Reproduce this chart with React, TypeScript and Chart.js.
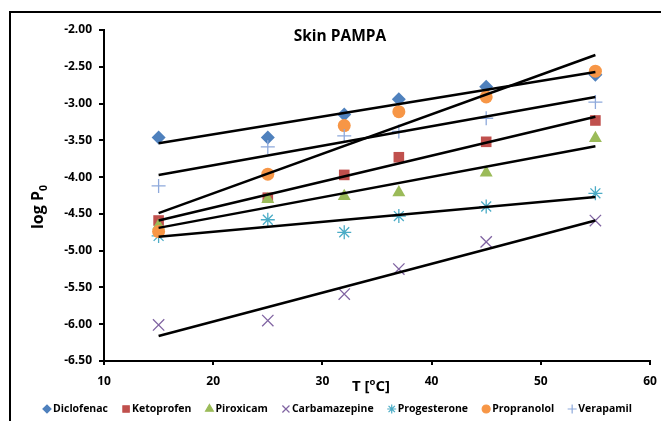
import React, { useEffect, useRef } from "react";
import { Chart, registerables } from "chart.js";
import { drawPoint } from "chart.js/helpers";

Chart.register(...registerables);

const temps = [15, 25, 32, 37, 45, 55];
const diclofenac = [-3.46, -3.46, -3.15, -2.94, -2.77, -2.61];
const ketoprofen = [-4.59, -4.28, -3.97, -3.73, -3.52, -3.23];
const piroxicam = [-4.66, -4.3, -4.26, -4.21, -3.94, -3.47];
const carbamazepine = [-6.01, -5.95, -5.59, -5.25, -4.88, -4.59];
const progesterone = [-4.8, -4.58, -4.75, -4.53, -4.4, -4.22];
const propranolol = [-4.74, -3.96, -3.3, -3.11, -2.91, -2.56];
const verapamil = [-4.12, -3.59, -3.44, -3.38, -3.2, -2.98];

// trend line end values at T = 15 and T = 55
const trendX = [15, 55];
const trendDiclofenac = [-3.54, -2.57];
const trendKetoprofen = [-4.59, -3.18];
const trendPiroxicam = [-4.69, -3.58];
const trendCarbamazepine = [-6.16, -4.59];
const trendProgesterone = [-4.81, -4.27];
const trendPropranolol = [-4.49, -2.34];
const trendVerapamil = [-3.97, -2.91];

const seriesNames = ["Diclofenac", "Ketoprofen", "Piroxicam", "Carbamazepine", "Progesterone", "Propranolol", "Verapamil"];
const seriesValues = [diclofenac, ketoprofen, piroxicam, carbamazepine, progesterone, propranolol, verapamil];
const trendValues = [trendDiclofenac, trendKetoprofen, trendPiroxicam, trendCarbamazepine, trendProgesterone, trendPropranolol, trendVerapamil];
const colors = ["#4F81BD", "#C0504D", "#9BBB59", "#8064A2", "#4BACC6", "#F79646", "#8EA9DB"];
const styles = ["rectRot", "rect", "triangle", "crossRot", "star", "circle", "cross"];
const radii = [7, 7.5, 7.5, 8, 7, 6.5, 7];
const legendRadii = [4, 4.5, 4.5, 5, 4.5, 4, 4.5];

const FONT = "'Open Sans', Lato, sans-serif";

const decorPlugin = {
  id: "decor",
  beforeDraw(chart: any) {
    const ctx = chart.ctx;
    ctx.save();
    ctx.fillStyle = "#fff";
    ctx.fillRect(0, 0, chart.width, chart.height);
    ctx.strokeStyle = "#000";
    ctx.lineWidth = 2;
    ctx.strokeRect(10, 12, 720, 520);
    ctx.restore();
  },
  afterDraw(chart: any) {
    const ctx = chart.ctx;
    ctx.save();
    ctx.fillStyle = "#000";
    // title
    ctx.font = `bold 15.5px ${FONT}`;
    ctx.textAlign = "center";
    ctx.textBaseline = "middle";
    ctx.fillText("Skin PAMPA", 340, 37);

    // x axis title T [oC]
    ctx.font = `bold 15px ${FONT}`;
    ctx.textAlign = "left";
    ctx.textBaseline = "alphabetic";
    let x = 352;
    const base = 391;
    ctx.fillText("T [", x, base);
    x += ctx.measureText("T [").width;
    ctx.font = `bold 9.5px ${FONT}`;
    ctx.fillText("o", x, base - 6);
    x += ctx.measureText("o").width;
    ctx.font = `bold 15px ${FONT}`;
    ctx.fillText("C]", x, base);

    // y axis title log P0
    ctx.save();
    ctx.translate(43, 207);
    ctx.rotate(-Math.PI / 2);
    ctx.font = `bold 16px ${FONT}`;
    const w1 = ctx.measureText("log P").width;
    ctx.font = `bold 10.5px ${FONT}`;
    const w2 = ctx.measureText("0").width;
    let sx = -(w1 + w2) / 2;
    ctx.font = `bold 16px ${FONT}`;
    ctx.fillText("log P", sx, 0);
    ctx.font = `bold 10.5px ${FONT}`;
    ctx.fillText("0", sx + w1, 4);
    ctx.restore();

    // legend
    ctx.font = `bold 10.5px ${FONT}`;
    ctx.textBaseline = "middle";
    const markW = 10;
    const widths = seriesNames.map((n) => markW + ctx.measureText(n).width);
    const textTotal = widths.reduce((a, b) => a + b, 0);
    const left = 43;
    const right = 632;
    const gap = (right - left - textTotal) / (seriesNames.length - 1);
    let lx = left;
    const ly = 409;
    seriesNames.forEach((n, i) => {
      ctx.fillStyle = colors[i];
      ctx.strokeStyle = colors[i];
      ctx.lineWidth = 1.2;
      drawPoint(ctx, { pointStyle: styles[i], radius: legendRadii[i], rotation: 0, borderWidth: 1.2 } as any, lx + 4, ly);
      ctx.fillStyle = "#000";
      ctx.fillText(n, lx + markW, ly);
      lx += widths[i] + gap;
    });
    ctx.restore();
  },
};

export default function App() {
  const ref = useRef<HTMLCanvasElement | null>(null);
  useEffect(() => {
    if (!ref.current) return;
    const datasets: any[] = [];
    seriesNames.forEach((n, i) => {
      datasets.push({
        type: "line",
        label: n + " trend",
        data: trendX.map((t, k) => ({ x: t, y: trendValues[i][k] })),
        borderColor: "#000",
        borderWidth: 2.5,
        pointRadius: 0,
        showLine: true,
        fill: false,
        order: 0,
      });
    });
    seriesNames.forEach((n, i) => {
      const isLine = styles[i] === "crossRot" || styles[i] === "cross" || styles[i] === "star";
      datasets.push({
        type: "scatter",
        label: n,
        data: temps.map((t, k) => ({ x: t, y: seriesValues[i][k] })),
        pointStyle: styles[i],
        pointRadius: radii[i],
        backgroundColor: colors[i],
        borderColor: colors[i],
        borderWidth: isLine ? 1.3 : 0,
        showLine: false,
        order: 20 - i,
      });
    });
    const chart = new Chart(ref.current, {
      type: "scatter",
      data: { datasets },
      plugins: [decorPlugin],
      options: {
        animation: false,
        responsive: false,
        layout: { padding: { left: 0, right: 11, top: 30, bottom: 0 } },
        plugins: { legend: { display: false }, tooltip: { enabled: false }, title: { display: false } },
        scales: {
          x: {
            type: "linear",
            min: 10,
            max: 60,
            ticks: { stepSize: 10, color: "#000", font: { family: FONT, size: 12, weight: "bold" }, padding: 9 },
            grid: { drawOnChartArea: false, drawTicks: true, tickLength: 4, color: "#000", lineWidth: 2 },
            border: { display: true, color: "#000", width: 2 },
            afterFit: (s: any) => { s.height = 60; s.paddingRight = 0; s.paddingLeft = 0; },
          },
          y: {
            type: "linear",
            min: -6.5,
            max: -2,
            ticks: { stepSize: 0.5, color: "#000", font: { family: FONT, size: 12, weight: "bold" }, padding: 7, callback: (v: any) => Number(v).toFixed(2) },
            grid: { drawOnChartArea: false, drawTicks: true, tickLength: 5, color: "#000", lineWidth: 2 },
            border: { display: true, color: "#000", width: 2 },
            afterFit: (s: any) => { s.width = 104; s.paddingTop = 0; s.paddingBottom = 0; },
          },
        },
      },
    });
    return () => chart.destroy();
  }, []);
  return (
    <div style={{ position: "absolute", left: 0, top: 0, width: 661, height: 421 }}>
      <canvas ref={ref} width={661} height={421} style={{ display: "block" }} />
    </div>
  );
}
